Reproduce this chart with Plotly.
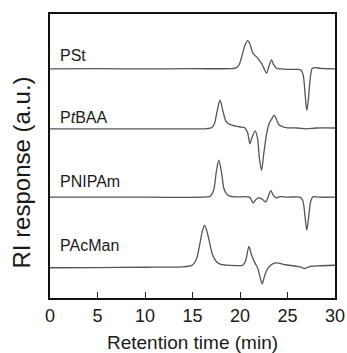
import plotly.graph_objects as go

# Retention time (min) and RI response (a.u., relative to each trace's baseline)
pst_t = [0, 5, 10, 15, 19.0, 19.6, 19.9, 20.2, 20.5, 20.8, 21.05, 21.3, 21.5, 21.75, 22.0, 22.3, 22.55, 22.8, 23.05, 23.32, 23.55, 23.85, 24.3, 25, 26.0, 26.4, 26.65, 26.85, 27.03, 27.2, 27.4, 27.6, 27.9, 28.5, 30]
pst_r = [0, 0.2, 0, 0.2, 0.3, 1, 4, 13, 23, 28.3, 25, 17, 14, 12, 9, 5, 0, -4.3, 3, 9, 4, 0.7, 0, -0.5, -0.5, -1, -6, -25, -41.7, -30, -9, 0.5, 1.3, 0.5, 0]

ptbaa_t = [0, 10, 16.5, 17.0, 17.3, 17.6, 17.9, 18.2, 18.5, 18.8, 19.2, 19.6, 20.0, 20.5, 20.8, 21.04, 21.25, 21.6, 21.85, 22.05, 22.27, 22.5, 22.8, 23.1, 23.35, 23.6, 23.85, 24.1, 24.4, 25.0, 26, 27, 28, 30]
ptbaa_r = [0, 0, 0.2, 1, 5, 18, 28.6, 18, 8, 5, 3.5, 2.6, 1.8, 1, -4, -15, -9, -2, -10, -30, -41.7, -25, -5, 6, 10, 13.6, 9, 4, 2.5, 1, 0.8, 0, 0.8, 0.8]

pnipam_t = [0, 10, 16.5, 16.9, 17.25, 17.5, 17.77, 18.05, 18.3, 18.6, 18.9, 19.5, 21.0, 21.2, 21.4, 21.7, 22.1, 22.4, 22.7, 22.95, 23.25, 23.5, 23.84, 24.2, 25, 26.3, 26.6, 26.85, 27.03, 27.2, 27.45, 27.7, 28.3, 30]
pnipam_r = [0, 0, 0.2, 1.2, 8, 25, 37, 25, 9, 3, 1, 0.3, 0, -3, -5.8, -2, -0.8, -2.5, -4.8, 0, 6.5, 2, -0.8, 0.5, 0, 0, -3, -20, -33, -22, -4, 0.5, 0, 0]

pacman_t = [0, 5, 10, 14, 14.6, 15.0, 15.4, 15.8, 16.05, 16.26, 16.5, 16.8, 17.1, 17.5, 17.9, 18.5, 19.5, 20.3, 20.6, 20.94, 21.2, 21.57, 21.85, 22.1, 22.33, 22.6, 22.96, 23.4, 23.84, 24.7, 25.9, 26.5, 26.74, 27.0, 27.5, 28.5, 30]
pacman_r = [-1.2, -1, -0.7, -0.3, 0.3, 1.5, 7, 24, 36, 41.3, 36, 24, 12, 5, 2.5, 1.5, 1, 1.3, 6, 20.3, 12, 3.7, -1.3, -10, -17.3, -9, -1.3, 2.5, 3.7, 2, 0.3, -0.8, -2, -1.2, 0.3, 0.8, 1.3]

names = ["PSt", "P<i>t</i>BAA", "PNIPAm", "PAcMan"]
times = [pst_t, ptbaa_t, pnipam_t, pacman_t]
responses = [pst_r, ptbaa_r, pnipam_r, pacman_r]
offsets = [229.5, 169.5, 101, 31.5]
label_offsets = [13.5, 11, 15.5, 21]

x_ticks = [0, 5, 10, 15, 20, 25, 30]

FONT = "Liberation Sans, Arial, sans-serif"

fig = go.Figure()
for t, r, off in zip(times, responses, offsets):
    fig.add_trace(go.Scatter(
        x=t, y=[v + off for v in r], mode="lines",
        line=dict(color="#555555", width=1.3, shape="spline", smoothing=0.8),
        showlegend=False, hoverinfo="skip"))

for name, off, lo in zip(names, offsets, label_offsets):
    fig.add_annotation(x=0.85, y=off + lo, xref="x", yref="y", text=name,
                       showarrow=False, xanchor="left", yanchor="middle",
                       font=dict(family=FONT, size=16, color="#1a1a1a"))

fig.add_annotation(x=-0.1, y=0.44, xref="paper", yref="paper",
                   text="RI response (a.u.)", textangle=-90, showarrow=False,
                   xanchor="center", yanchor="middle",
                   font=dict(family=FONT, size=24, color="#1a1a1a"))

fig.update_layout(
    width=347, height=353,
    margin=dict(l=50, r=12, t=14, b=54.5, autoexpand=False),
    paper_bgcolor="white", plot_bgcolor="white",
    font=dict(family=FONT, color="#1a1a1a"),
    xaxis=dict(range=[0, 30], tickvals=x_ticks, ticktext=[str(v) for v in x_ticks],
               ticks="inside", ticklen=6, tickwidth=1, tickcolor="#222",
               showline=True, linecolor="#111", linewidth=2, mirror=True,
               showgrid=False, zeroline=False, ticklabelstandoff=0, automargin=False,
               tickfont=dict(family=FONT, size=18, color="#1a1a1a"),
               title=dict(text="Retention time (min)", font=dict(family=FONT, size=19, color="#1a1a1a"), standoff=22)),
    yaxis=dict(range=[0, 284.5], showticklabels=False, ticks="",
               showline=True, linecolor="#111", linewidth=2, mirror=True,
               showgrid=False, zeroline=False, automargin=False),
)

fig.write_html("out.html")
